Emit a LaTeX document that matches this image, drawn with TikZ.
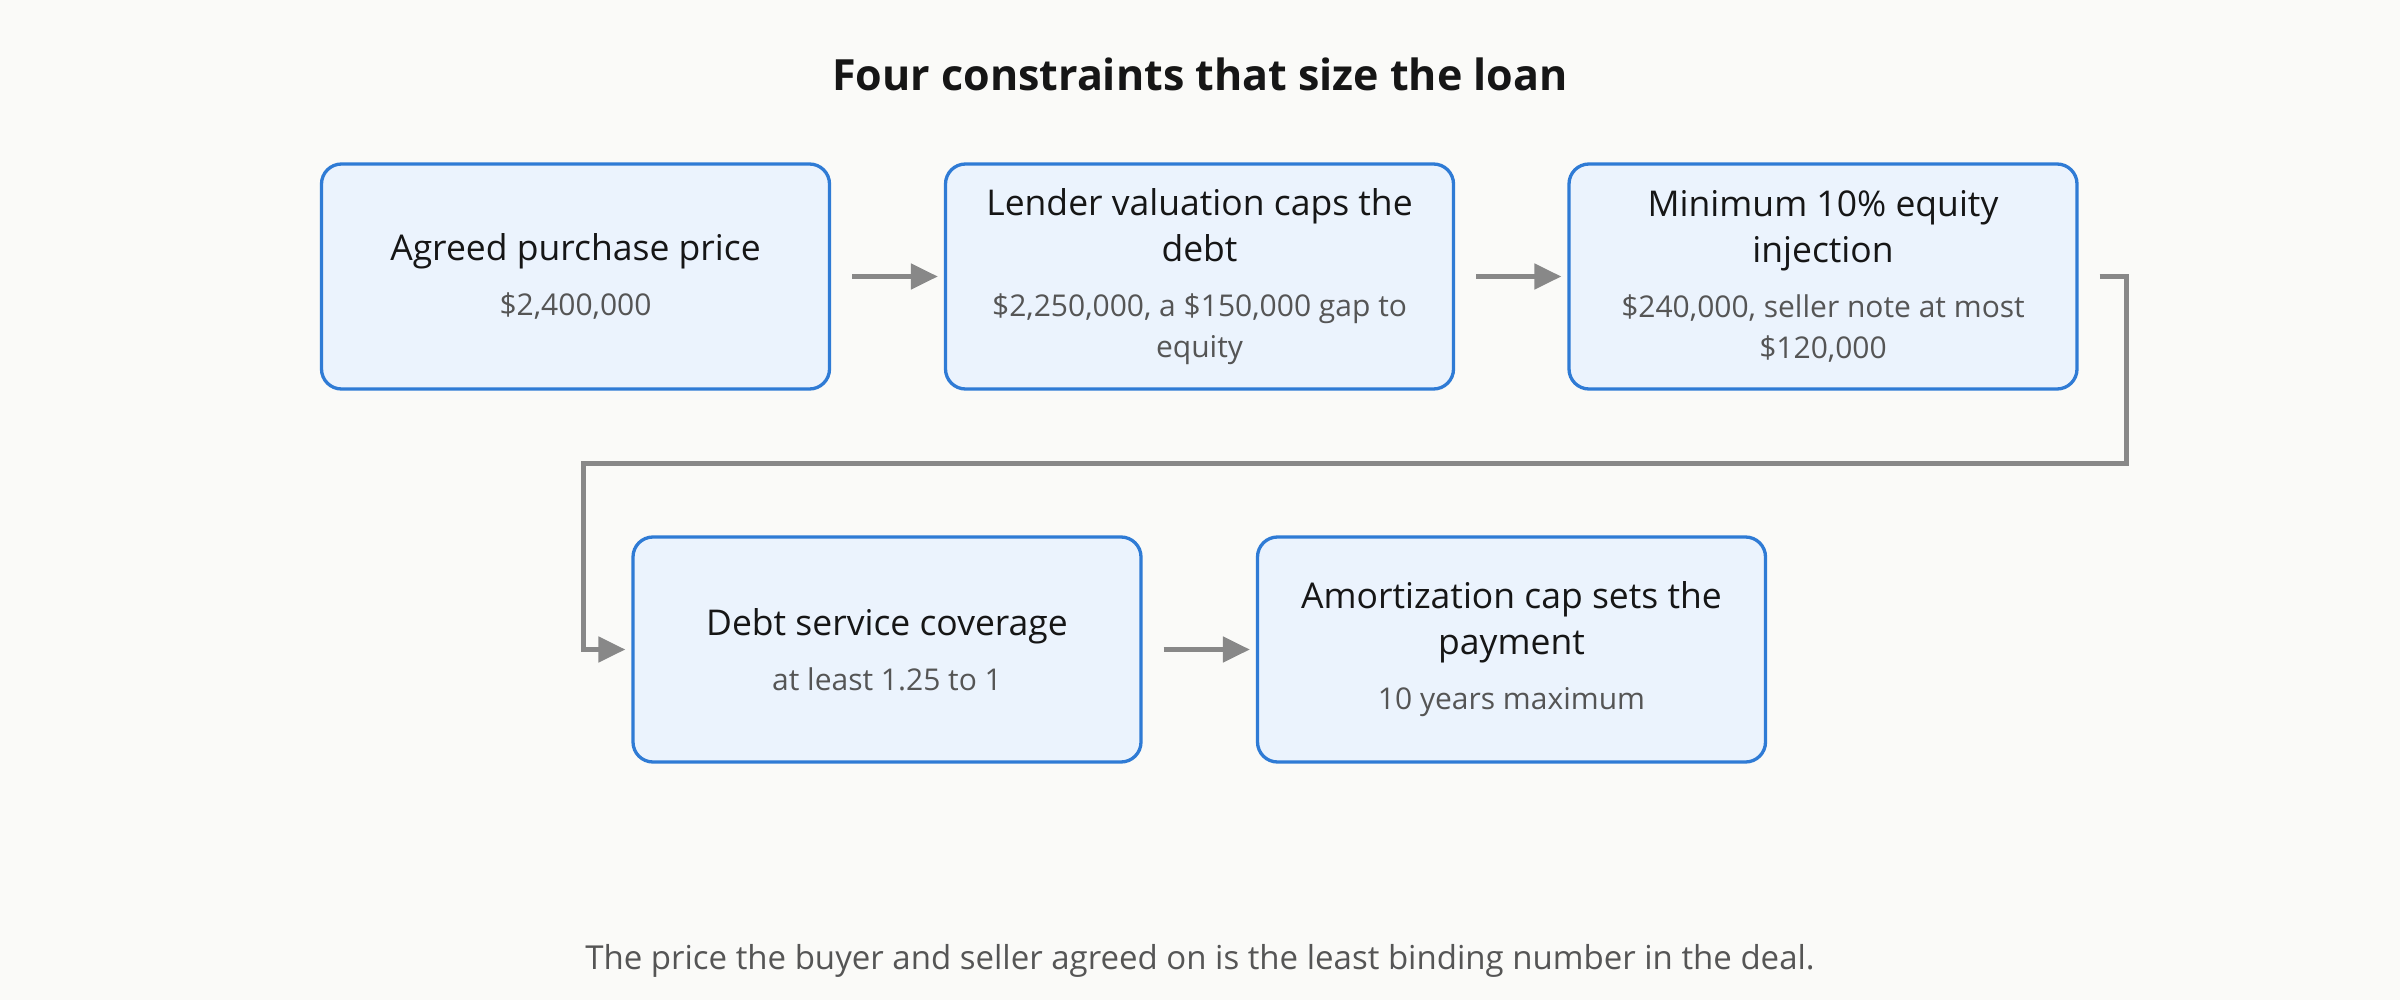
\documentclass[tikz,border=0pt]{standalone}
\usepackage{fontspec}
\setmainfont{Open Sans}
\usetikzlibrary{arrows.meta,calc}
\definecolor{bg}{HTML}{FAFAF8}
\definecolor{boxfill}{HTML}{EBF3FD}
\definecolor{boxline}{HTML}{2F7BD5}
\definecolor{arrowgray}{HTML}{888888}
\definecolor{ink}{HTML}{161616}
\definecolor{subgray}{HTML}{555555}
\newcommand\boxtext[2]{\spaceskip=0pt\xspaceskip=0pt{\fontsize{35.5}{46}\selectfont\color{ink}#1\par}\vspace{14pt}{\fontsize{30}{41}\selectfont\color{subgray}#2\par}}
\tikzset{
  stepbox/.style={draw=boxline, fill=boxfill, line width=3.3pt, rounded corners=20pt,
    minimum width=508pt, minimum height=225pt, inner sep=0pt, text width=480pt, align=flush center},
  flow/.style={draw=arrowgray, line width=5pt, -{Triangle[length=27pt,width=25pt]}},
  titletext/.style={font=\fontsize{43}{52}\selectfont\bfseries, text=ink, inner sep=0pt},
  foottext/.style={font=\fontsize{33}{40}\selectfont, text=subgray, inner sep=0pt}
}
\begin{document}
\begin{tikzpicture}[x=1pt,y=-1pt]
\fill[bg] (0,0) rectangle (2400,1000);
\useasboundingbox (0,0) rectangle (2400,1000);
\node[titletext] (title) at (1200,74) {Four constraints that size the loan};
\node[stepbox] (b1) at (575.5,276.5) {\boxtext{Agreed purchase price}{\$2,400,000}};
\node[stepbox] (b2) at (1199.5,276.5) {\boxtext{Lender valuation caps the\\debt}{\$2,250,000, a \$150,000 gap to\\equity}};
\node[stepbox] (b3) at (1823,276.5) {\boxtext{Minimum 10\% equity\\injection}{\$240,000, seller note at most\\\$120,000}};
\node[stepbox] (b4) at (887,649.5) {\boxtext{Debt service coverage}{at least 1.25 to 1}};
\node[stepbox] (b5) at (1511.5,649.5) {\boxtext{Amortization cap sets the\\payment}{10 years maximum}};
\draw[flow] ($(b1.east)+(21,0)$) -- ($(b2.west)+(-6,0)$);
\draw[flow] ($(b2.east)+(21,0)$) -- ($(b3.west)+(-6,0)$);
\coordinate (midy) at ($(b3.south)!0.5!(b3.south |- b4.north)$);
\coordinate (turnR) at ($(b3.east |- midy)+(48,0)$);
\coordinate (turnL) at ($(b4.west |- midy)+(-48,0)$);
\draw[flow] ($(b3.east)+(21,0)$) -| (turnR) -- (turnL) |- ($(b4.west)+(-6,0)$);
\draw[flow] ($(b4.east)+(21,0)$) -- ($(b5.west)+(-6,0)$);
\node[foottext] (foot) at (1200,961) {The price the buyer and seller agreed on is the least binding number in the deal.};
\end{tikzpicture}
\end{document}
